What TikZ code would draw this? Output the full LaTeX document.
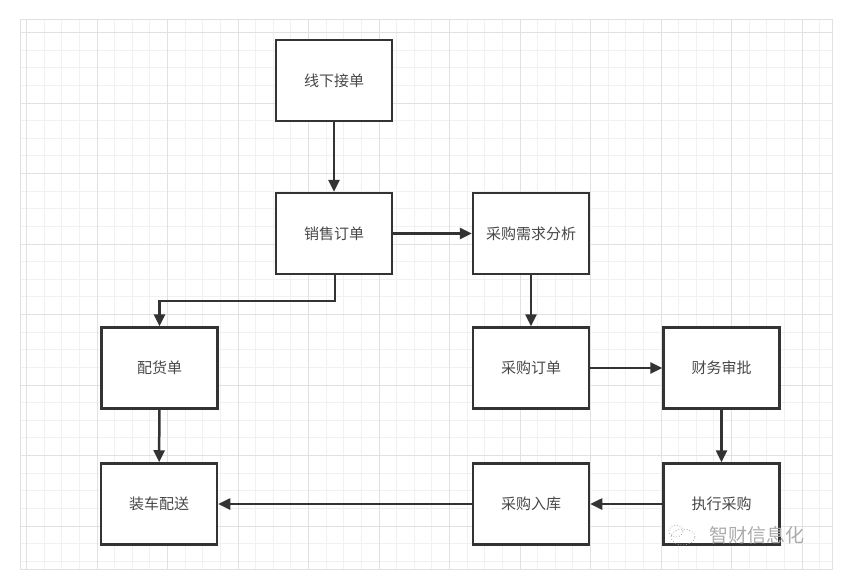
\documentclass[tikz,border=0pt]{standalone}
\usepackage{fontspec}
\newfontfamily\cjk{Noto Sans CJK SC}
\usetikzlibrary{arrows.meta}
\definecolor{gridminor}{HTML}{F1F1F1}
\definecolor{gridmajor}{HTML}{E1E1E1}
\definecolor{boxline}{HTML}{333333}
\definecolor{txt}{HTML}{484848}
\tikzset{
  box/.style={draw=boxline, line width=2.5pt, fill=white, minimum width=116pt, minimum height=81pt, inner sep=0pt, font=\cjk\fontsize{15}{17}\selectfont, text=txt},
  conn/.style={draw=boxline, line width=2.5pt, -{Triangle[length=12pt,width=11pt]}},
}
\begin{document}
\begin{tikzpicture}[x=1pt,y=-1pt]
\useasboundingbox (0,0) rectangle (843,583);
\fill[white] (0,0) rectangle (843,583);
% grid
\begin{scope}
\clip (20,20) rectangle (832,569);
\foreach \i in {-2,...,47} {
  \draw[gridminor, line width=0.9pt] ({26.5+17.625*\i},20) -- ({26.5+17.625*\i},569);
  \draw[gridminor, line width=0.9pt] (20,{32.5+17.625*\i}) -- (832,{32.5+17.625*\i});
}
\foreach \i in {0,...,12} {
  \draw[gridmajor, line width=0.9pt] ({26.5+70.5*\i},20) -- ({26.5+70.5*\i},569);
  \draw[gridmajor, line width=0.9pt] (20,{32.5+70.5*\i}) -- (832,{32.5+70.5*\i});
}
\end{scope}
\draw[gridmajor, line width=1pt] (20,20) rectangle (832,569);
% boxes
\node[box] (xx) at (334,80.5) {线下接单};
\node[box] (xs) at (334,233.5) {销售订单};
\node[box] (xq) at (531,233.5) {采购需求分析};
\node[box] (ph) at (159.5,368) {配货单};
\node[box] (cd) at (531,368) {采购订单};
\node[box] (cw) at (721.5,368) {财务审批};
\node[box] (zc) at (159,504) {装车配送};
\node[box] (rk) at (531,504) {采购入库};
\node[box] (zx) at (721.5,504) {执行采购};
% connectors
\coordinate (b1) at (335,301);
\coordinate (b2) at (159.5,301);
\draw[conn] (xx) -- (xs);
\draw[conn] (xs) -- (xq);
\draw[conn] (xs.south -| b1) -- (b1) -- (b2) -- (ph.north);
\draw[conn] (xq) -- (cd);
\draw[conn] (cd) -- (cw);
\draw[conn] (cw) -- (zx);
\draw[conn] (zx) -- (rk);
\draw[conn] (rk) -- (zc);
\draw[conn] (ph) -- (zc);
% watermark
\node[inner sep=0pt, text=white!35!gray, font=\cjk\fontsize{19}{21}\selectfont] (wm) at (757,535) {智财信息化};
\draw[gray!70, line width=0.8pt, dotted] (683,537) ellipse (12pt and 8pt);
\draw[gray!70, line width=0.8pt, dotted] (676,531) ellipse (7pt and 6pt);
\end{tikzpicture}
\end{document}
